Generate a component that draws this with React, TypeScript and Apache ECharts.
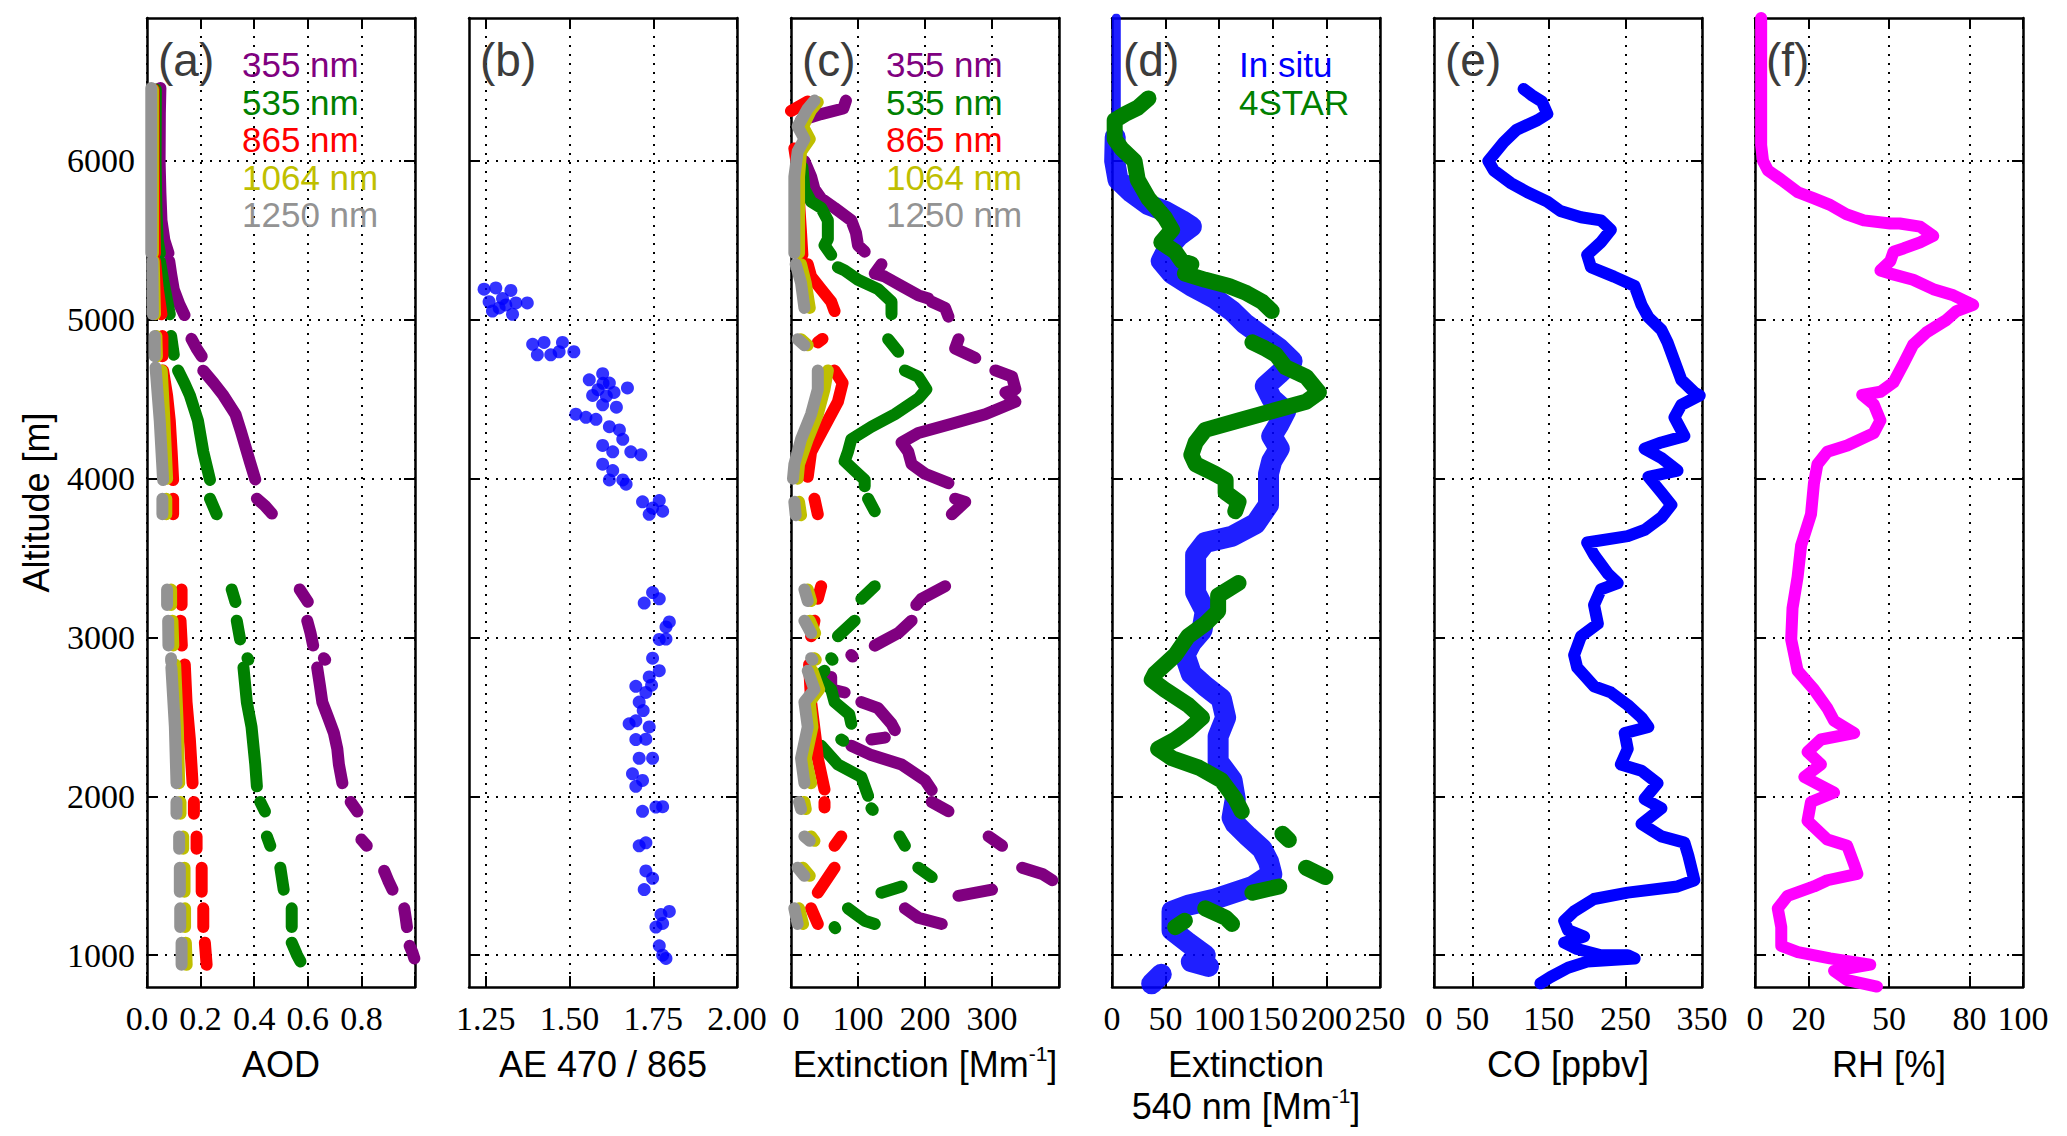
import React, { useEffect, useRef } from "react";
import * as echarts from "echarts";

type Pt = [number, number];
type Seg = Pt[];

// ---------- Panel (a): AOD vs altitude ----------
const aod355: Seg[] = [
  [[0.05, 6460], [0.048, 6300], [0.047, 6000], [0.05, 5800], [0.054, 5626], [0.065, 5500], [0.08, 5420]],
  [[0.083, 5370], [0.09, 5290], [0.1, 5190], [0.12, 5100], [0.14, 5030]],
  [[0.166, 4880], [0.185, 4820], [0.204, 4770]],
  [[0.21, 4680], [0.25, 4600], [0.285, 4524], [0.33, 4406], [0.35, 4300], [0.366, 4209], [0.385, 4100], [0.404, 3995]],
  [[0.41, 3874], [0.44, 3830], [0.466, 3780]],
  [[0.57, 3303], [0.6, 3225]],
  [[0.598, 3106], [0.61, 3030], [0.62, 2950]],
  [[0.66, 2870], [0.665, 2860]],
  [[0.635, 2811], [0.645, 2700], [0.654, 2594], [0.675, 2500], [0.6975, 2398], [0.71, 2300], [0.716, 2201], [0.729, 2083]],
  [[0.76, 1965], [0.785, 1905]],
  [[0.8, 1728], [0.82, 1689]],
  [[0.885, 1531], [0.9, 1470], [0.916, 1413]],
  [[0.96, 1295], [0.965, 1240], [0.97, 1177]],
  [[0.98, 1059], [0.99, 1020], [0.9975, 980]],
];
const aod535: Seg[] = [
  [[0.033, 6450], [0.032, 6000], [0.035, 5700], [0.04, 5500], [0.048, 5420]],
  [[0.048, 5370], [0.06, 5250], [0.075, 5120], [0.085, 5035]],
  [[0.09, 4898], [0.1, 4780]],
  [[0.116, 4681], [0.14, 4600], [0.16, 4524], [0.19, 4366], [0.21, 4169], [0.235, 3992]],
  [[0.235, 3874], [0.26, 3776]],
  [[0.316, 3303], [0.33, 3224]],
  [[0.335, 3106], [0.3475, 2988]],
  [[0.375, 2870], [0.378, 2860]],
  [[0.36, 2811], [0.3725, 2594], [0.39, 2437], [0.404, 2201], [0.41, 2063]],
  [[0.4225, 1965], [0.44, 1905]],
  [[0.4475, 1748], [0.46, 1689]],
  [[0.4975, 1551], [0.51, 1413]],
  [[0.54, 1295], [0.54, 1177]],
  [[0.54, 1079], [0.56, 1000], [0.5725, 961]],
];
const aod865: Seg[] = [
  [[0.025, 6450], [0.025, 6000], [0.027, 5700], [0.03, 5420]],
  [[0.03, 5370], [0.04, 5200], [0.054, 5035]],
  [[0.0575, 4898], [0.0575, 4770]],
  [[0.06, 4681], [0.075, 4524], [0.085, 4366], [0.092, 4169], [0.0975, 3992]],
  [[0.0975, 3874], [0.0975, 3776]],
  [[0.129, 3303], [0.129, 3205]],
  [[0.125, 3106], [0.13, 2950]],
  [[0.141, 2830], [0.1475, 2594], [0.16, 2358], [0.17, 2083]],
  [[0.175, 1965], [0.175, 1890]],
  [[0.185, 1748], [0.185, 1670]],
  [[0.204, 1551], [0.204, 1400]],
  [[0.21, 1295], [0.21, 1177]],
  [[0.216, 1079], [0.2225, 940]],
];
const aod1064: Seg[] = [
  [[0.022, 6450], [0.022, 5420]],
  [[0.025, 5370], [0.03, 5035]],
  [[0.035, 4898], [0.037, 4770]],
  [[0.055, 4681], [0.065, 4366], [0.075, 4000]],
  [[0.072, 3874], [0.072, 3776]],
  [[0.09, 3303], [0.09, 3205]],
  [[0.095, 3106], [0.098, 2950]],
  [[0.105, 2830], [0.115, 2437], [0.12, 2083]],
  [[0.125, 1965], [0.125, 1890]],
  [[0.135, 1748], [0.135, 1670]],
  [[0.14, 1551], [0.14, 1400]],
  [[0.142, 1295], [0.142, 1177]],
  [[0.145, 1079], [0.148, 940]],
];
const aod1250: Seg[] = [
  [[0.016, 6460], [0.016, 5420]],
  [[0.02, 5370], [0.022, 5035]],
  [[0.029, 4898], [0.029, 4770]],
  [[0.032, 4700], [0.0475, 4366], [0.06, 3992]],
  [[0.0575, 3874], [0.0575, 3776]],
  [[0.075, 3303], [0.075, 3205]],
  [[0.079, 3106], [0.08, 2950]],
  [[0.09, 2870], [0.09, 2850]],
  [[0.091, 2811], [0.104, 2437], [0.11, 2083]],
  [[0.11, 1965], [0.11, 1890]],
  [[0.12, 1748], [0.12, 1670]],
  [[0.1225, 1551], [0.1225, 1400]],
  [[0.124, 1295], [0.124, 1177]],
  [[0.129, 1079], [0.129, 940]],
];

// ---------- Panel (b): Angstrom exponent ----------
const aePoints: Pt[] = [
  [1.245, 5193], [1.28, 5201], [1.325, 5185], [1.26, 5114], [1.29, 5075], [1.31, 5094], [1.34, 5106],
  [1.374, 5106], [1.33, 5035], [1.27, 5055], [1.3, 5134],
  [1.39, 4846], [1.424, 4858], [1.404, 4780], [1.444, 4780], [1.469, 4799], [1.479, 4858], [1.513, 4799],
  [1.559, 4622], [1.599, 4661], [1.619, 4602], [1.633, 4543], [1.673, 4571], [1.569, 4524], [1.599, 4465],
  [1.519, 4406], [1.549, 4386], [1.579, 4374], [1.619, 4327], [1.649, 4307], [1.659, 4248], [1.599, 4209],
  [1.629, 4169], [1.683, 4169], [1.713, 4150], [1.599, 4091], [1.629, 4051], [1.659, 3992], [1.619, 3992],
  [1.669, 3965], [1.6, 4600], [1.61, 4520], [1.64, 4450], [1.585, 4560],
  [1.718, 3854], [1.748, 3815], [1.778, 3795], [1.768, 3862], [1.738, 3776],
  [1.748, 3283], [1.768, 3244], [1.723, 3217], [1.788, 3067], [1.798, 3098], [1.768, 2988], [1.788, 2990], [1.748, 2870],
  [1.768, 2791], [1.738, 2752], [1.698, 2693], [1.728, 2654], [1.708, 2594], [1.678, 2457], [1.698, 2476],
  [1.738, 2437], [1.698, 2358], [1.728, 2360], [1.708, 2240], [1.748, 2240], [1.688, 2142], [1.698, 2063],
  [1.718, 2100], [1.72, 2540], [1.745, 2700],
  [1.718, 1906], [1.758, 1933], [1.778, 1935],
  [1.708, 1689], [1.728, 1708],
  [1.728, 1531], [1.748, 1484], [1.723, 1413],
  [1.773, 1256], [1.798, 1276], [1.758, 1177], [1.778, 1200],
  [1.768, 1059], [1.778, 1000], [1.788, 980],
];

// ---------- Panel (c): extinction by wavelength ----------
const ext355: Seg[] = [
  [[82, 6380], [78, 6330], [45, 6295], [15, 6256]],
  [[20, 6000], [30, 5902], [35, 5823], [45, 5764], [65, 5705], [90, 5626], [97, 5547], [100, 5469], [110, 5429]],
  [[135, 5350], [125, 5291], [140, 5272], [165, 5213], [190, 5154], [205, 5134]],
  [[210, 5114], [230, 5075], [235, 5020]],
  [[250, 4878], [245, 4819], [265, 4780], [275, 4760]],
  [[305, 4681], [330, 4642], [335, 4563], [320, 4543], [335, 4484], [290, 4406], [240, 4346], [190, 4287], [165, 4228], [175, 4169], [180, 4091], [200, 4031], [235, 3972]],
  [[245, 3874], [260, 3854], [240, 3776]],
  [[230, 3323], [195, 3244], [187, 3205]],
  [[180, 3106], [160, 3028], [125, 2949]],
  [[90, 2890], [92, 2880]],
  [[60, 2752], [60, 2673], [80, 2654]],
  [[105, 2594], [130, 2555], [150, 2457], [155, 2417]],
  [[120, 2358], [140, 2370]],
  [[90, 2319], [120, 2260], [165, 2201], [200, 2102], [210, 2040]],
  [[210, 1965], [235, 1906]],
  [[295, 1748], [315, 1689]],
  [[345, 1551], [375, 1512], [390, 1472]],
  [[250, 1374], [300, 1413]],
  [[170, 1295], [190, 1236], [225, 1197]],
];
const ext535: Seg[] = [
  [[17, 5961], [20, 5823], [30, 5744], [45, 5705], [55, 5626], [55, 5508], [50, 5469], [60, 5409]],
  [[70, 5331], [80, 5311], [100, 5252], [130, 5193], [150, 5114], [150, 5035]],
  [[145, 4878], [160, 4799]],
  [[170, 4681], [190, 4642], [202, 4563], [190, 4504], [155, 4406], [120, 4327], [90, 4248], [85, 4169], [80, 4110], [95, 4051], [110, 3992], [110, 3953]],
  [[115, 3874], [125, 3795]],
  [[125, 3323], [105, 3244]],
  [[95, 3106], [70, 3008]],
  [[60, 2870], [62, 2860]],
  [[50, 2791], [40, 2752], [60, 2673], [65, 2594], [87, 2516], [90, 2457]],
  [[75, 2358], [78, 2350]],
  [[45, 2319], [70, 2201], [105, 2122], [115, 2004]],
  [[120, 1925], [122, 1915]],
  [[162, 1748], [170, 1689]],
  [[190, 1551], [210, 1492]],
  [[135, 1394], [165, 1433]],
  [[85, 1295], [110, 1217], [125, 1197]],
  [[65, 1177], [66, 1170]],
];
const ext865: Seg[] = [
  [[25, 6374], [0, 6315]],
  [[5, 6079], [10, 5941], [12, 5744], [15, 5547], [17, 5409]],
  [[25, 5350], [30, 5272], [45, 5193], [60, 5114], [65, 5055]],
  [[40, 4858], [47, 4880]],
  [[65, 4681], [77, 4602], [70, 4484], [55, 4366], [40, 4248], [30, 4169], [25, 4012]],
  [[35, 3874], [40, 3776]],
  [[45, 3323], [40, 3244]],
  [[35, 3106], [30, 3008]],
  [[27, 2830], [30, 2594], [37, 2358], [40, 2240], [50, 2043]],
  [[50, 1965], [50, 1930]],
  [[75, 1748], [65, 1689]],
  [[65, 1551], [40, 1394]],
  [[30, 1295], [40, 1197]],
];
const ext1064: Seg[] = [
  [[40, 6370], [30, 6320], [18, 6217], [28, 6138], [15, 6060], [12, 5900], [12, 5650], [12, 5420]],
  [[15, 5350], [22, 5232], [28, 5075]],
  [[15, 4878], [25, 4840]],
  [[55, 4681], [50, 4563], [40, 4406], [25, 4248], [12, 4091], [10, 4000]],
  [[12, 3854], [15, 3770]],
  [[25, 3303], [30, 3230]],
  [[28, 3106], [36, 3028]],
  [[35, 2870], [37, 2860]],
  [[32, 2791], [42, 2673], [28, 2594], [32, 2437], [22, 2240], [30, 2083]],
  [[20, 1965], [22, 1920]],
  [[30, 1748], [35, 1720]],
  [[18, 1551], [28, 1500]],
  [[12, 1295], [18, 1197]],
];
const ext1250: Seg[] = [
  [[35, 6380], [25, 6330], [10, 6217], [20, 6138], [10, 6060], [5, 5900], [5, 5650], [5, 5420]],
  [[7, 5350], [15, 5232], [20, 5075]],
  [[10, 4878], [20, 4840]],
  [[40, 4681], [40, 4563], [30, 4406], [15, 4248], [5, 4091], [3, 4000]],
  [[5, 3854], [7, 3770]],
  [[20, 3303], [25, 3230]],
  [[20, 3106], [30, 3028]],
  [[30, 2870], [32, 2860]],
  [[25, 2791], [35, 2673], [20, 2594], [25, 2437], [15, 2240], [20, 2083]],
  [[12, 1965], [15, 1920]],
  [[20, 1748], [28, 1720]],
  [[10, 1551], [20, 1500]],
  [[5, 1295], [10, 1197]],
];

// ---------- Panel (d): extinction 540 nm, in situ vs 4STAR ----------
const inSituUpper: Seg[] = [
  [[4, 6900], [4, 6600], [4, 6330], [3, 6150]],
];
const inSitu: Seg[] = [
  [[3, 6150], [2.5, 6000], [5.6, 5882], [18, 5803], [34, 5724], [49, 5685], [65, 5626],
   [74, 5587], [62, 5527], [52, 5449], [46, 5370], [56, 5291], [74, 5213], [96, 5134], [112, 5055], [124, 4976],
   [140, 4898], [156, 4819], [168, 4740], [156, 4661], [143, 4583], [149, 4504], [162, 4425], [156, 4346],
   [149, 4268], [156, 4189], [149, 4110], [146, 4031], [146, 3953], [146, 3835], [134, 3717], [112, 3638],
   [87, 3598], [78, 3520], [78, 3402], [78, 3283], [87, 3165], [84, 3047], [74, 2968], [68, 2890], [74, 2772],
   [87, 2693], [102, 2614], [106, 2496], [99, 2378], [99, 2220], [112, 2102], [115, 1984], [112, 1866],
   [115, 1827], [127, 1748], [140, 1669], [146, 1590], [149, 1512], [131, 1433], [96, 1354], [71, 1315],
   [56, 1276], [56, 1158], [71, 1079], [87, 1000], [74, 960], [90, 930]],
  [[46, 880], [37, 820]],
];
const star4: Seg[] = [
  [[34, 6394], [24, 6335], [12, 6295], [2.5, 6256], [2.5, 6138], [8.75, 6079], [21, 6000], [24, 5882], [34, 5764],
   [49, 5646], [56, 5567], [46, 5488], [59, 5429], [65, 5370], [74, 5350], [68, 5291], [87, 5252], [109, 5213],
   [124, 5173], [140, 5114], [149, 5055]],
  [[131, 4858], [143, 4819], [153, 4780], [162, 4701], [181, 4642], [193, 4543], [181, 4484], [149, 4425],
   [118, 4366], [87, 4307], [78, 4228], [74, 4150], [78, 4091], [96, 4031], [106, 3992], [106, 3913],
   [118, 3854], [115, 3795]],
  [[118, 3343], [99, 3264], [99, 3165], [87, 3087], [71, 3008], [59, 2890], [40, 2772], [37, 2733], [49, 2673],
   [71, 2575], [84, 2496], [71, 2417], [59, 2358], [43, 2299], [56, 2240], [81, 2181], [102, 2102],
   [115, 1984], [121, 1905]],
  [[159, 1764], [165, 1725]],
  [[181, 1551], [199, 1492]],
  [[156, 1433], [131, 1394]],
  [[87, 1295], [106, 1236], [112, 1197]],
  [[68, 1217], [59, 1177]],
];

// ---------- Panel (e): CO ----------
const coProfile: Seg[] = [
  [[117, 6453], [128, 6413], [141, 6374], [148, 6296], [135, 6256], [108, 6197], [91, 6118], [71, 6000], [78, 5941],
   [100, 5862], [122, 5803], [148, 5744], [165, 5685], [192, 5646], [218, 5626], [231, 5567], [218, 5488],
   [200, 5409], [205, 5331], [235, 5272], [262, 5213], [271, 5094], [280, 5016], [297, 4937], [305, 4858],
   [314, 4740], [323, 4622], [340, 4543], [347, 4524], [323, 4465], [314, 4386], [327, 4268], [297, 4228],
   [275, 4189], [297, 4130], [318, 4051], [280, 4012], [297, 3913], [310, 3835], [297, 3756], [275, 3677],
   [253, 3638], [200, 3598], [209, 3520], [227, 3402], [240, 3343], [218, 3303], [209, 3205], [214, 3087],
   [192, 3008], [183, 2890], [187, 2811], [209, 2693], [231, 2654], [253, 2575], [271, 2496], [280, 2437],
   [249, 2398], [253, 2299], [244, 2201], [271, 2161], [292, 2083], [275, 1984], [297, 1925], [271, 1827],
   [297, 1748], [327, 1709], [332, 1630], [336, 1551], [340, 1472], [318, 1433], [253, 1394], [209, 1354],
   [183, 1276], [170, 1217], [175, 1158], [196, 1118], [170, 1079], [187, 1039], [218, 1000], [253, 1000],
   [262, 980], [200, 960], [175, 921], [152, 862], [139, 823]],
];

// ---------- Panel (f): RH ----------
const rhProfile: Seg[] = [
  [[2.3, 6900], [2.3, 6500], [2.3, 6100], [3, 6000], [4.8, 5941], [9.8, 5882], [16, 5803], [22, 5764], [28, 5724],
   [34, 5665], [40.6, 5626], [50.5, 5606], [54, 5606], [61.6, 5587], [66.5, 5528], [61.6, 5488], [55.4, 5449],
   [51.7, 5429], [50.5, 5370], [46.8, 5311], [50.5, 5291], [59, 5252], [66.5, 5193], [74, 5154], [81.4, 5094],
   [75.2, 5055], [71.5, 5000], [64, 4921], [59, 4843], [55.4, 4724], [51.7, 4606], [46.8, 4547], [40, 4528],
   [44.3, 4468], [46.8, 4366], [44.3, 4287], [34.4, 4209], [27, 4169], [23.3, 4091], [22, 3972], [20.9, 3776],
   [17.2, 3579], [15.9, 3382], [14, 3185], [13.5, 2988], [15.9, 2791], [22, 2673], [27, 2555], [29.5, 2476],
   [37, 2398], [24.6, 2358], [19.6, 2280], [24.6, 2201], [18.4, 2122], [29.5, 2024], [20.9, 1965], [19.6, 1846],
   [27, 1728], [34.4, 1689], [37, 1571], [38.2, 1512], [27, 1472], [22, 1433], [12.2, 1374], [8.5, 1295],
   [9.8, 1177], [9.8, 1059], [16, 1020], [28, 980], [43, 941], [29.5, 902], [34.4, 843], [45.5, 803]],
];

// ---------- Axes / labels ----------
const altTicks = [1000, 2000, 3000, 4000, 5000, 6000];
const altMin = 800;
const altMax = 6900;
const panelLetters = ["(a)", "(b)", "(c)", "(d)", "(e)", "(f)"];
const wavelengthLabels = ["355 nm", "535 nm", "865 nm", "1064 nm", "1250 nm"];
const dLegendLabels = ["In situ", "4STAR"];

const xCfg = [
  { min: 0, max: 1, ticks: [0, 0.2, 0.4, 0.6, 0.8, 1.0], labels: [0, 0.2, 0.4, 0.6, 0.8], dec: 1, name: "AOD" },
  { min: 1.2, max: 2.0, ticks: [1.25, 1.5, 1.75, 2.0], labels: [1.25, 1.5, 1.75, 2.0], dec: 2, name: "AE 470 / 865" },
  { min: 0, max: 400, ticks: [0, 100, 200, 300, 400], labels: [0, 100, 200, 300], dec: 0, name: "{a|Extinction [Mm}{s|-1}{a|]}" },
  { min: 0, max: 250, ticks: [0, 50, 100, 150, 200, 250], labels: [0, 50, 100, 150, 200, 250], dec: 0, name: "{a|Extinction}\n{a|540 nm [Mm}{s|-1}{a|]}" },
  { min: 0, max: 350, ticks: [0, 50, 150, 250, 350], labels: [0, 50, 150, 250, 350], dec: 0, name: "CO [ppbv]" },
  { min: 0, max: 100, ticks: [0, 20, 50, 80, 100], labels: [0, 20, 50, 80, 100], dec: 0, name: "RH [%]" },
];

const C_PURPLE = "#800080";
const C_GREEN = "#008000";
const C_RED = "#ff0000";
const C_YELLOW = "#bfbf00";
const C_GRAY = "#939393";
const C_BLUE = "#0000ff";
const C_MAGENTA = "#ff00ff";
const wlColors = [C_PURPLE, C_GREEN, C_RED, C_YELLOW, C_GRAY];

// layout (px)
const GRID_TOP = 18;
const GRID_H = 969;
const GRID_W = 268;
const LEFTS = [147, 469, 791, 1112, 1434, 1755];

const SERIF = "Liberation Serif";
const SANS = "Liberation Sans";

function joinSegs(segs: Seg[]): any[] {
  const out: any[] = [];
  segs.forEach((s, i) => {
    if (i > 0) out.push(["-", "-"]);
    s.forEach((p) => out.push(p));
  });
  return out;
}

function lineSeries(segs: Seg[], color: string, width: number, gi: number, z: number, opacity = 1) {
  return {
    type: "line",
    data: joinSegs(segs),
    xAxisIndex: 2 * gi,
    yAxisIndex: 2 * gi,
    showSymbol: false,
    symbol: "none",
    connectNulls: false,
    smooth: false,
    silent: true,
    clip: true,
    z,
    lineStyle: { color, width, cap: "round", join: "round", opacity },
    itemStyle: { color },
  };
}

function buildOption() {
  const grid = LEFTS.map((left) => ({
    left,
    top: GRID_TOP,
    width: GRID_W,
    height: GRID_H,
    containLabel: false,
    outerBoundsMode: "none",
    show: false,
  }));

  const frame = { show: true, onZero: false, lineStyle: { color: "#000", width: 2.5 } };
  const tickStyle = { color: "#000", width: 2 };
  const gridLine = { show: true, lineStyle: { color: "#000", width: 2, type: [2, 7] } };

  const xAxis: any[] = [];
  const yAxis: any[] = [];
  xCfg.forEach((c, gi) => {
    xAxis.push({
      type: "value",
      gridIndex: gi,
      position: "bottom",
      min: c.min,
      max: c.max,
      axisLine: frame,
      axisTick: { show: true, inside: true, length: 11, customValues: c.ticks, lineStyle: tickStyle },
      axisLabel: {
        show: true,
        customValues: c.labels,
        formatter: (v: number) => v.toFixed(c.dec),
        margin: 14,
        color: "#000",
        fontFamily: SERIF,
        fontSize: 34,
        fontWeight: "normal",
      },
      splitLine: gridLine,
      name: c.name,
      nameLocation: "middle",
      nameGap: 56,
      nameMoveOverlap: false,
      nameTextStyle: {
        color: "#000",
        fontFamily: SANS,
        fontSize: 36,
        lineHeight: 42,
        rich: {
          a: { color: "#000", fontFamily: SANS, fontSize: 36, lineHeight: 42 },
          s: { color: "#000", fontFamily: SANS, fontSize: 21, lineHeight: 42, verticalAlign: "top", padding: [0, 0, 12, 0] },
        },
      },
    });
    xAxis.push({
      type: "value",
      gridIndex: gi,
      position: "top",
      min: c.min,
      max: c.max,
      axisLine: frame,
      axisTick: { show: true, inside: true, length: 11, customValues: c.ticks, lineStyle: tickStyle },
      axisLabel: { show: false },
      splitLine: { show: false },
    });
    yAxis.push({
      type: "value",
      gridIndex: gi,
      position: "left",
      min: altMin,
      max: altMax,
      axisLine: frame,
      axisTick: { show: true, inside: true, length: 11, customValues: altTicks, lineStyle: tickStyle },
      axisLabel: {
        show: gi === 0,
        customValues: altTicks,
        formatter: (v: number) => String(v),
        margin: 12,
        color: "#000",
        fontFamily: SERIF,
        fontSize: 34,
        fontWeight: "normal",
      },
      splitLine: gridLine,
      name: gi === 0 ? "Altitude [m]" : "",
      nameLocation: "middle",
      nameGap: 93,
      nameMoveOverlap: false,
      nameTextStyle: { color: "#000", fontFamily: SANS, fontSize: 36 },
    });
    yAxis.push({
      type: "value",
      gridIndex: gi,
      position: "right",
      min: altMin,
      max: altMax,
      axisLine: frame,
      axisTick: { show: true, inside: true, length: 11, customValues: altTicks, lineStyle: tickStyle },
      axisLabel: { show: false },
      splitLine: { show: false },
    });
  });

  const series: any[] = [];
  [aod355, aod535, aod865, aod1064, aod1250].forEach((s, i) =>
    series.push(lineSeries(s, wlColors[i], 12, 0, 2 + i))
  );
  series.push({
    type: "scatter",
    data: aePoints,
    xAxisIndex: 2,
    yAxisIndex: 2,
    symbol: "circle",
    symbolSize: 13,
    silent: true,
    itemStyle: { color: C_BLUE },
    z: 2,
  });
  [ext355, ext535, ext865, ext1064, ext1250].forEach((s, i) =>
    series.push(lineSeries(s, wlColors[i], 12, 2, 2 + i))
  );
  series.push(lineSeries(inSituUpper, C_BLUE, 9, 3, 2, 0.88));
  series.push(lineSeries(inSitu, C_BLUE, 21, 3, 2, 0.88));
  series.push(lineSeries(star4, C_GREEN, 16, 3, 3));
  series.push(lineSeries(coProfile, C_BLUE, 12, 4, 2));
  series.push(lineSeries(rhProfile, C_MAGENTA, 12, 5, 2));

  const graphic: any[] = [];
  panelLetters.forEach((t, i) => {
    graphic.push({
      type: "text",
      left: LEFTS[i] + 11,
      top: 37,
      z: 100,
      silent: true,
      style: { text: t, fontFamily: SANS, fontSize: 46, fill: "#3c3c3c" },
    });
  });
  [0, 2].forEach((gi) => {
    wavelengthLabels.forEach((t, k) => {
      graphic.push({
        type: "text",
        left: LEFTS[gi] + 95,
        top: 47 + k * 37.5,
        z: 100,
        silent: true,
        style: { text: t, fontFamily: SANS, fontSize: 35, fill: wlColors[k] },
      });
    });
  });
  dLegendLabels.forEach((t, k) => {
    graphic.push({
      type: "text",
      left: LEFTS[3] + 127,
      top: 47 + k * 37.5,
      z: 100,
      silent: true,
      style: { text: t, fontFamily: SANS, fontSize: 35, fill: k === 0 ? C_BLUE : C_GREEN },
    });
  });

  return {
    animation: false,
    backgroundColor: "#ffffff",
    grid,
    xAxis,
    yAxis,
    series,
    graphic,
  };
}

export default function App() {
  const ref = useRef<HTMLDivElement>(null);
  useEffect(() => {
    if (!ref.current) return;
    const chart = echarts.init(ref.current, null, { renderer: "svg" });
    chart.setOption(buildOption() as any);
    return () => chart.dispose();
  }, []);
  return (
    <div
      ref={ref}
      style={{ position: "fixed", left: 0, top: 0, width: 2067, height: 1136, background: "#fff" }}
    />
  );
}
